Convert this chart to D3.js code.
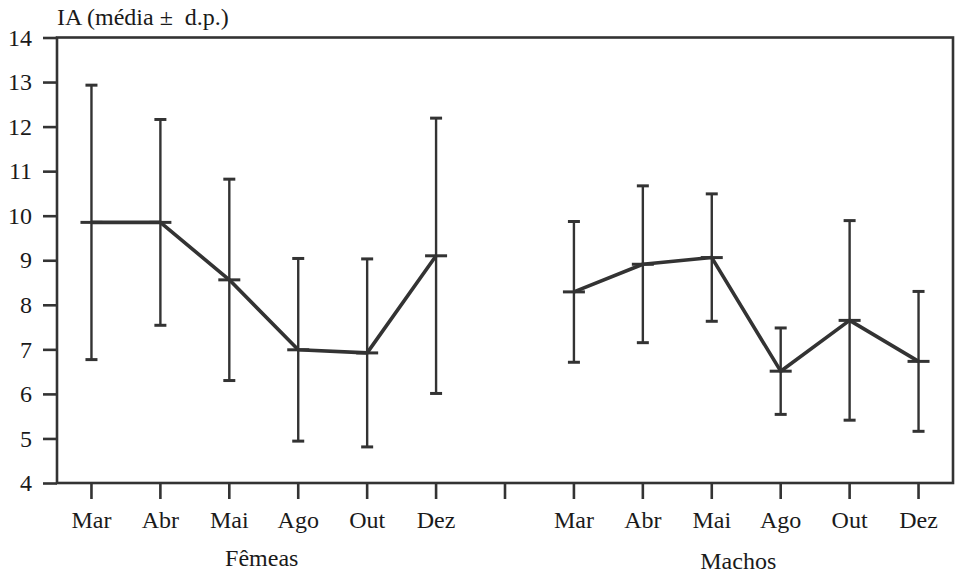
<!DOCTYPE html>
<html>
<head>
<meta charset="utf-8">
<script src="https://cdn.jsdelivr.net/npm/d3@7"></script>
<style>
  html, body { margin: 0; padding: 0; background: #ffffff; }
</style>
</head>
<body>
<svg id="chart" width="957" height="576"></svg>
<script>
// ---- data ----
const months = ["Mar", "Abr", "Mai", "Ago", "Out", "Dez"];
const groups = ["Fêmeas", "Machos"];
const femeasMean = [9.85, 9.85, 8.56, 6.99, 6.92, 9.10];
const femeasSd   = [3.08, 2.31, 2.26, 2.05, 2.11, 3.09];
const machosMean = [8.29, 8.91, 9.06, 6.51, 7.65, 6.73];
const machosSd   = [1.58, 1.76, 1.43, 0.97, 2.24, 1.57];
const yTicks = [4, 5, 6, 7, 8, 9, 10, 11, 12, 13, 14];
const yTitle = "IA (média ±\u00a0 d.p.)";

// ---- layout ----
const FONT = "'Liberation Serif', 'Times New Roman', serif";
const svg = d3.select("#chart");
const mLeft = 57, mRight = 953, mTop = 37.5, mBottom = 483;
const ink = "#333333";
const txt = "#1a1a1a";

const slots = d3.range(13);
const x = d3.scaleBand().domain(slots).range([mLeft, mRight]).padding(0);
const xc = i => x(i) + x.bandwidth() / 2;
const y = d3.scaleLinear().domain([4, 14]).range([mBottom, mTop]);

svg.append("rect")
  .attr("x", mLeft).attr("y", mTop)
  .attr("width", mRight - mLeft).attr("height", mBottom - mTop)
  .attr("fill", "none").attr("stroke", ink).attr("stroke-width", 2.6);

const yAxis = d3.axisLeft(y).tickValues(yTicks).tickSize(14).tickPadding(11).tickFormat(d3.format("d"));
const gy = svg.append("g").attr("transform", `translate(${mLeft},0)`).call(yAxis);
gy.select(".domain").remove();
gy.selectAll(".tick line").attr("stroke", ink).attr("stroke-width", 2.6);
gy.selectAll(".tick text").style("font-family", FONT).style("font-size", "24px").attr("fill", txt);

const xAxis = d3.axisBottom(x).tickSize(16).tickFormat(() => "");
const gx = svg.append("g").attr("transform", `translate(0,${mBottom})`).call(xAxis);
gx.select(".domain").remove();
gx.selectAll(".tick line").attr("stroke", ink).attr("stroke-width", 2.6);

const labelData = [];
months.forEach((m, i) => { labelData.push({ m, s: i }); labelData.push({ m, s: i + 7 }); });
svg.selectAll("text.month").data(labelData).enter().append("text")
  .attr("class", "month")
  .attr("x", d => xc(d.s)).attr("y", 528)
  .attr("text-anchor", "middle")
  .style("font-family", FONT).style("font-size", "24px").attr("fill", txt)
  .text(d => d.m);

svg.selectAll("text.group").data(groups).enter().append("text")
  .attr("class", "group")
  .attr("x", (d, i) => i === 0 ? (xc(0) + xc(5)) / 2 - 2 : (xc(7) + xc(12)) / 2 - 8)
  .attr("y", (d, i) => i === 0 ? 566 : 569)
  .attr("text-anchor", "middle")
  .style("font-family", FONT).style("font-size", "24px").attr("fill", txt)
  .text(d => d);

svg.append("text")
  .attr("x", 57).attr("y", 25)
  .style("font-family", FONT).style("font-size", "24px").attr("fill", txt)
  .text(yTitle);

function drawSeries(means, sds, offset) {
  const data = means.map((m, i) => ({ s: i + offset, m, sd: sds[i] }));
  const g = svg.append("g");
  g.selectAll("line.err").data(data).enter().append("line")
    .attr("x1", d => xc(d.s)).attr("x2", d => xc(d.s))
    .attr("y1", d => y(d.m + d.sd)).attr("y2", d => y(d.m - d.sd))
    .attr("stroke", ink).attr("stroke-width", 2.4);
  ["up", "lo"].forEach(k => {
    g.selectAll("line.cap" + k).data(data).enter().append("line")
      .attr("x1", d => xc(d.s) - 6).attr("x2", d => xc(d.s) + 6)
      .attr("y1", d => y(k === "up" ? d.m + d.sd : d.m - d.sd))
      .attr("y2", d => y(k === "up" ? d.m + d.sd : d.m - d.sd))
      .attr("stroke", ink).attr("stroke-width", 3);
  });
  g.selectAll("line.mean").data(data).enter().append("line")
    .attr("x1", d => xc(d.s) - 11).attr("x2", d => xc(d.s) + 11)
    .attr("y1", d => y(d.m)).attr("y2", d => y(d.m))
    .attr("stroke", ink).attr("stroke-width", 3);
  const line = d3.line().x(d => xc(d.s)).y(d => y(d.m));
  g.append("path").datum(data).attr("d", line)
    .attr("fill", "none").attr("stroke", ink).attr("stroke-width", 3.6)
    .attr("stroke-linejoin", "round");
}
drawSeries(femeasMean, femeasSd, 0);
drawSeries(machosMean, machosSd, 7);
</script>
</body>
</html>
